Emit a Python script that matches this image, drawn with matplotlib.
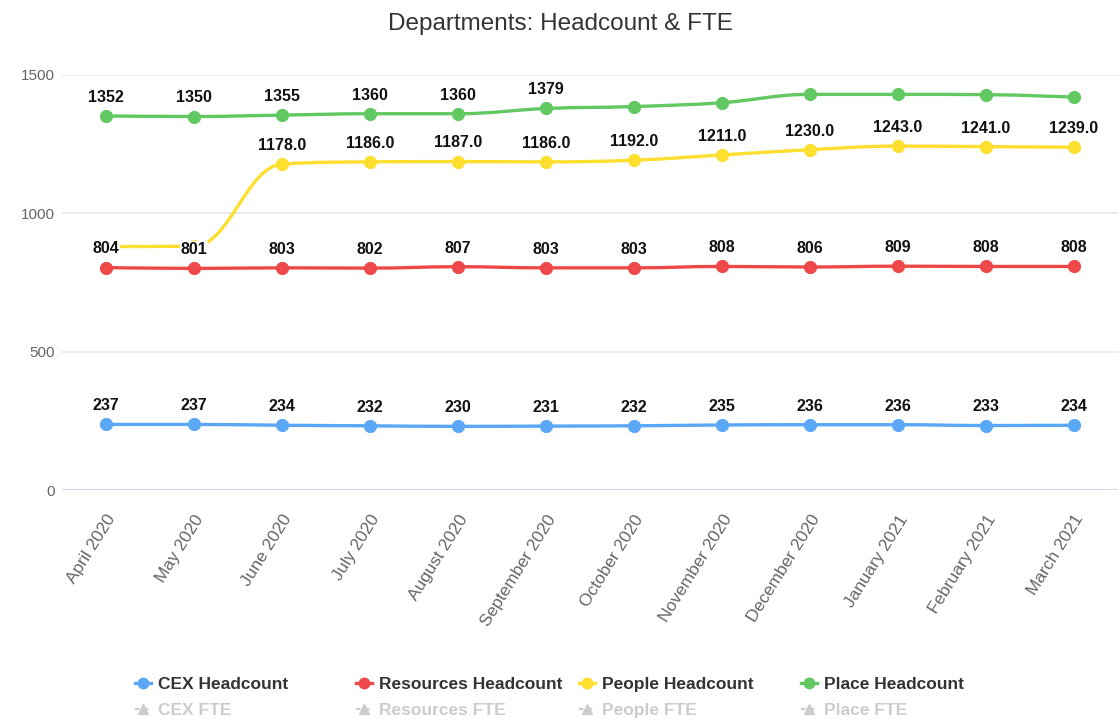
import numpy as np
import matplotlib.pyplot as plt
from matplotlib.path import Path
from matplotlib.patches import PathPatch
from matplotlib.lines import Line2D

plt.rcParams['font.family'] = ['Liberation Sans', 'DejaVu Sans']

months = ["April 2020", "May 2020", "June 2020", "July 2020", "August 2020",
          "September 2020", "October 2020", "November 2020", "December 2020",
          "January 2021", "February 2021", "March 2021"]

cex_hc = [237, 237, 234, 232, 230, 231, 232, 235, 236, 236, 233, 234]
resources_hc = [804, 801, 803, 802, 807, 803, 803, 808, 806, 809, 808, 808]
people_hc = [880, 881, 1178, 1186, 1187, 1186, 1192, 1211, 1230, 1243, 1241, 1239]
place_hc = [1352, 1350, 1355, 1360, 1360, 1379, 1386, 1400, 1430, 1430, 1429, 1420]

# labels that are actually shown in the chart (others hidden by overlap)
cex_labels = [str(v) for v in cex_hc]
resources_labels = [str(v) for v in resources_hc]
people_labels = [None, None] + [f"{v:.1f}" for v in people_hc[2:]]
place_labels = [str(v) for v in place_hc[:6]] + [None] * 6

series = [
    ("CEX", cex_hc, cex_labels, "#5aa7f6"),
    ("Resources", resources_hc, resources_labels, "#ef4848"),
    ("People", people_hc, people_labels, "#fede2e"),
    ("Place", place_hc, place_labels, "#62c862"),
]


def spline_path(xs, ys, smoothing=1.5):
    # highcharts style spline
    n = len(xs)
    denom = smoothing + 1
    lc = [None] * n
    rc = [None] * n
    for i in range(1, n - 1):
        px, py = xs[i], ys[i]
        lx, ly = xs[i - 1], ys[i - 1]
        nx, ny = xs[i + 1], ys[i + 1]
        lcx = (smoothing * px + lx) / denom
        lcy = (smoothing * py + ly) / denom
        rcx = (smoothing * px + nx) / denom
        rcy = (smoothing * py + ny) / denom
        corr = ((rcy - lcy) * (rcx - px)) / (rcx - lcx) + py - rcy
        lcy += corr
        rcy += corr
        if lcy > ly and lcy > py:
            lcy = max(ly, py)
            rcy = 2 * py - lcy
        elif lcy < ly and lcy < py:
            lcy = min(ly, py)
            rcy = 2 * py - lcy
        if rcy > ny and rcy > py:
            rcy = max(ny, py)
            lcy = 2 * py - rcy
        elif rcy < ny and rcy < py:
            rcy = min(ny, py)
            lcy = 2 * py - rcy
        lc[i] = (lcx, lcy)
        rc[i] = (rcx, rcy)
    verts = [(xs[0], ys[0])]
    codes = [Path.MOVETO]
    for i in range(1, n):
        c1 = rc[i - 1] if rc[i - 1] else (xs[i - 1], ys[i - 1])
        c2 = lc[i] if lc[i] else (xs[i], ys[i])
        verts += [c1, c2, (xs[i], ys[i])]
        codes += [Path.CURVE4] * 3
    return Path(verts, codes)


fig = plt.figure(figsize=(11.2, 7.24), dpi=100)
ax = fig.add_axes([62 / 1120, 1 - 490 / 724, 1056 / 1120, 415 / 724])

x = np.arange(len(months))
for name, vals, labels, color in series:
    p = spline_path(list(x), list(vals))
    ax.add_patch(PathPatch(p, fill=False, edgecolor=color, lw=2.4, zorder=3,
                           capstyle='round', joinstyle='round', clip_on=False))
    ax.plot(x, vals, linestyle='none', marker='o', ms=8.5, color=color,
            zorder=4, clip_on=False)
    for xi, v, lab in zip(x, vals, labels):
        if lab is None:
            continue
        ax.annotate(lab, (xi, v), xytext=(0, 8), textcoords='offset points',
                    ha='center', va='bottom', fontsize=11.5, fontweight='bold',
                    color='#111111', zorder=6,
                    bbox=dict(boxstyle='square,pad=0.05', fc='white', ec='none'))

ax.set_xlim(-0.5, len(months) - 0.5)
ax.set_ylim(0, 1500)
ax.set_yticks([0, 500, 1000, 1500])
for t in [500, 1000, 1500]:
    ax.axhline(t, color='#e6e6e6', lw=1.2, zorder=1)
ax.axhline(0, color='#ccd6eb', lw=1.4, zorder=1)
for s in ax.spines.values():
    s.set_visible(False)
ax.tick_params(axis='y', length=0, pad=5, labelsize=11, labelcolor='#666666')
ax.set_xticks(x)
ax.set_xticklabels(months, rotation=58, ha='right', va='top',
                   rotation_mode='anchor', fontsize=12.5, color='#666666')
ax.tick_params(axis='x', length=0, pad=16)

fig.text(0.5, 1 - 24 / 724, "Departments: Headcount & FTE", ha='center',
         va='center', fontsize=17.5, color='#333333')

# legend (FTE series hidden -> gray items)
col_x = [143, 364, 587, 809]
row1, row2 = 1 - 683 / 724, 1 - 709 / 724
for (name, vals, labels, color), cx in zip(series, col_x):
    fx = cx / 1120
    fig.add_artist(Line2D([fx - 8 / 1120, fx + 8 / 1120], [row1, row1],
                          color=color, lw=2.4, transform=fig.transFigure))
    fig.add_artist(Line2D([fx], [row1], marker='o', ms=7.5, color=color,
                          transform=fig.transFigure))
    fig.text(fx + 15 / 1120, row1, f"{name} Headcount", ha='left',
             va='center_baseline', fontsize=12.5, color='#333333',
             fontweight='bold')
    fig.add_artist(Line2D([fx - 8 / 1120, fx + 8 / 1120], [row2, row2],
                          color='#cccccc', lw=1.6, ls=(0, (2, 2)),
                          transform=fig.transFigure))
    fig.add_artist(Line2D([fx], [row2], marker='^', ms=7.5, color='#cccccc',
                          transform=fig.transFigure))
    fig.text(fx + 15 / 1120, row2, f"{name} FTE", ha='left',
             va='center_baseline', fontsize=12.5, color='#cccccc',
             fontweight='bold')

fig.savefig("out.png", dpi=100)
